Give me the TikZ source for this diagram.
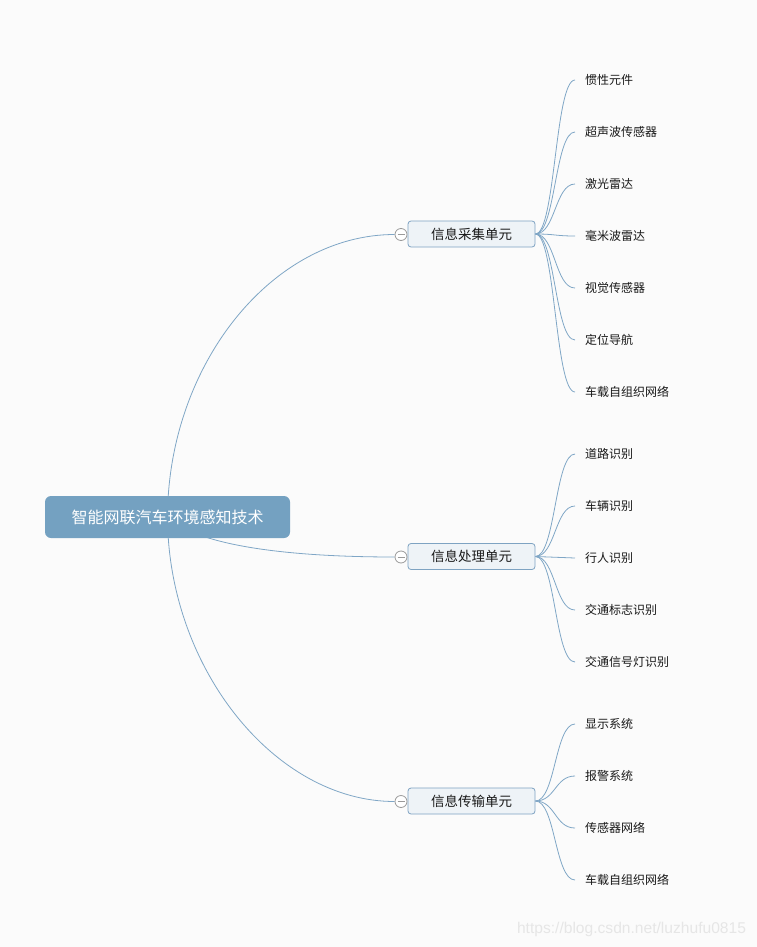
\documentclass[tikz,border=0pt]{standalone}
\usepackage{fontspec}
\newfontfamily\cjk{Noto Sans CJK SC}
\newfontfamily\wmfont{Liberation Sans}
\usetikzlibrary{backgrounds,calc}
\definecolor{bgc}{HTML}{FBFBFB}
\definecolor{rootc}{HTML}{74A1C1}
\definecolor{linec}{HTML}{7FA6C6}
\definecolor{boxfill}{HTML}{EEF3F7}
\definecolor{boxline}{HTML}{7EA3C2}
\definecolor{circc}{HTML}{9A9A9A}
\definecolor{wmc}{HTML}{E6E6E6}
\tikzset{
  rootnode/.style={fill=rootc, rounded corners=6pt, minimum width=245pt, minimum height=42pt, inner sep=0pt, text=white, font=\cjk\fontsize{16}{18}\selectfont},
  branchnode/.style={fill=boxfill, draw=boxline, line width=0.8pt, rounded corners=3pt, minimum width=127pt, minimum height=26pt, inner sep=0pt, text=black!90, font=\cjk\fontsize{13.5}{15}\selectfont},
  foldnode/.style={circle, draw=circc, fill=white, line width=0.8pt, minimum size=12pt, inner sep=0pt},
  leafnode/.style={anchor=west, inner xsep=10pt, inner ysep=2pt, text=black!90, font=\cjk\fontsize{12}{14}\selectfont},
  conn/.style={draw=linec, line width=0.8pt},
}
\begin{document}
\begin{tikzpicture}[x=1pt,y=-1pt]
\useasboundingbox (0,0) rectangle (757,947);
\node[rootnode] (r) at (167.5,517) {智能网联汽车环境感知技术};
\node[branchnode] (b1) at (471.5,234) {信息采集单元};
\node[branchnode] (b2) at (471.5,556.5) {信息处理单元};
\node[branchnode] (b3) at (471.5,801) {信息传输单元};
\foreach \i/\y in {1/234.5,2/557,3/801.5}{
  \node[foldnode] (c\i) at (401,\y) {};
  \draw[circc, line width=0.8pt] ($(c\i.center)+(-3.5,0)$) -- ($(c\i.center)+(3.5,0)$);
}
% leaves
\node[leafnode] (l1) at (575,80) {惯性元件};
\node[leafnode] (l2) at (575,132) {超声波传感器};
\node[leafnode] (l3) at (575,184) {激光雷达};
\node[leafnode] (l4) at (575,236) {毫米波雷达};
\node[leafnode] (l5) at (575,288) {视觉传感器};
\node[leafnode] (l6) at (575,340) {定位导航};
\node[leafnode] (l7) at (575,392) {车载自组织网络};
\node[leafnode] (l8) at (575,454) {道路识别};
\node[leafnode] (l9) at (575,506) {车辆识别};
\node[leafnode] (l10) at (575,558) {行人识别};
\node[leafnode] (l11) at (575,610) {交通标志识别};
\node[leafnode] (l12) at (575,662) {交通信号灯识别};
\node[leafnode] (l13) at (575,724) {显示系统};
\node[leafnode] (l14) at (575,776) {报警系统};
\node[leafnode] (l15) at (575,828) {传感器网络};
\node[leafnode] (l16) at (575,880) {车载自组织网络};
\node[text=wmc, font=\wmfont\fontsize{15.6}{17}\selectfont, inner sep=0pt] (wm) at (631.5,929.5) {https://blog.csdn.net/luzhufu0815};
\begin{scope}[on background layer]
\fill[bgc] (0,0) rectangle (757,947);
\draw[conn] (r.center) .. controls (168,365) and (272,234.5) .. (c1.west);
\draw[conn] (r.center) .. controls (200,548) and (300,557) .. (c2.west);
\draw[conn] (r.center) .. controls (168,668) and (275,801.5) .. (c3.west);
\foreach \b/\a/\z in {b1/1/7,b2/8/12,b3/13/16}{
  \foreach \k in {\a,...,\z}{
    \draw[conn] (\b.east) .. controls ($(\b.east)+(20,0)$) and ($(l\k.west)+(-20,0)$) .. (l\k.west);
  }
}
\end{scope}
\end{tikzpicture}
\end{document}
